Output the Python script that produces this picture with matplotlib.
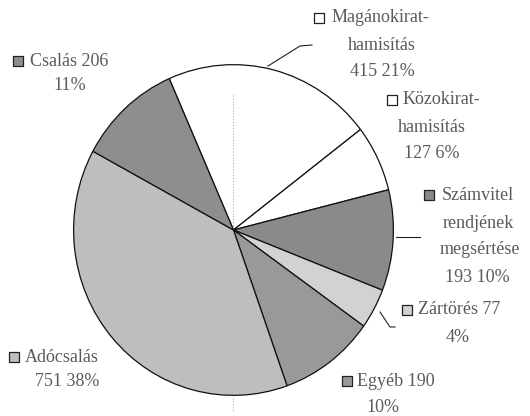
import matplotlib
matplotlib.use('Agg')
import matplotlib.pyplot as plt

# data (clockwise from the top-left boundary)
labels = ['Magánokirat-hamisítás', 'Közokirat-hamisítás', 'Számvitel rendjének megsértése',
          'Zártörés', 'Egyéb', 'Adócsalás', 'Csalás']
counts = [415, 127, 193, 77, 190, 751, 206]
shares = [21, 6, 10, 4, 10, 38, 11]
grays = ['#ffffff', '#ffffff', '#8a8a8a', '#d2d2d2', '#999999', '#bebebe', '#8e8e8e']

plt.rcParams['font.family'] = 'serif'
plt.rcParams['font.serif'] = ['Liberation Serif', 'DejaVu Serif']
txt_col = '#5a5a5a'

fig = plt.figure(figsize=(5.30, 4.16), dpi=100)

# pie axes, sized so that the pie is slightly taller than wide like the scan
ax = fig.add_axes([72 / 530, 1 - 397 / 416, 323 / 530, 334 / 416])
ax.pie(counts, colors=grays, startangle=113.7, counterclock=False,
       wedgeprops=dict(edgecolor='#111111', linewidth=0.9))
ax.set_xlim(-1.01, 1.01)
ax.set_ylim(-1.01, 1.01)
ax.set_aspect('auto')
ax.axis('off')

# overlay in pixel coordinates for labels and leader lines
ov = fig.add_axes([0, 0, 1, 1])
ov.set_xlim(0, 530)
ov.set_ylim(416, 0)
ov.axis('off')
ov.patch.set_alpha(0)

# faint dotted guide
ov.plot([233, 233], [95, 226], ls=':', color='#aaaaaa', lw=0.8)
ov.plot([233, 233], [398, 412], ls=':', color='#aaaaaa', lw=0.8)

fs = 13


def square(x, y, c):
    ov.scatter([x], [y], marker='s', s=55, facecolor=c, edgecolor='#222222', linewidths=0.9, zorder=5)


def line(x, y, s, ha='left'):
    ov.text(x, y, s, ha=ha, va='center', fontsize=fs, color=txt_col)


# Magánokirat-hamisítás
square(319, 18, grays[0])
line(332, 18, 'Magánokirat-')
line(382, 46, 'hamisítás', 'center')
line(382, 72, f'{counts[0]} {shares[0]}%', 'center')
ov.plot([268, 300, 312], [66, 46, 45], color='#222222', lw=0.8)

# Közokirat-hamisítás
square(392, 100, grays[1])
line(403, 100, 'Közokirat-')
line(432, 127, 'hamisítás', 'center')
line(432, 153, f'{counts[1]} {shares[1]}%', 'center')

# Számvitel
square(429, 195, grays[2])
line(442, 195, 'Számvitel')
line(478, 224, 'rendjének', 'center')
line(480, 250, 'megsértése', 'center')
line(477, 277, f'{counts[2]} {shares[2]}%', 'center')
ov.plot([396, 420], [237, 237], color='#222222', lw=0.8)

# Zártörés
square(407, 310, grays[3])
line(418, 310, f'Zártörés {counts[3]}')
line(458, 338, f'{shares[3]}%', 'center')
ov.plot([380, 390, 395], [312, 327, 327], color='#222222', lw=0.8)

# Egyéb
square(347, 381, grays[4])
line(357, 381, f'Egyéb {counts[4]}')
line(383, 407, f'{shares[4]}%', 'center')

# Adócsalás
square(14, 357, grays[5])
line(25, 357, 'Adócsalás')
line(67, 381, f'{counts[5]} {shares[5]}%', 'center')

# Csalás
square(18, 61, grays[6])
line(30, 61, f'Csalás {counts[6]}')
line(70, 85, f'{shares[6]}%', 'center')

fig.savefig('out.png', dpi=100, facecolor='white')
